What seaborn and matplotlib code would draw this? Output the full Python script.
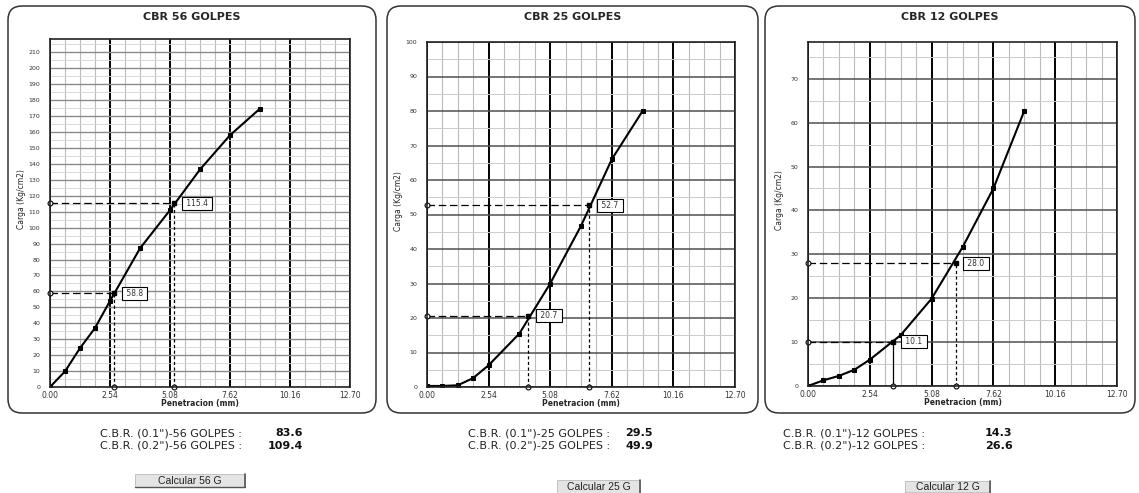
import matplotlib
matplotlib.use("Agg")
import matplotlib.pyplot as plt
import seaborn as sns
from matplotlib.patches import FancyBboxPatch, Rectangle
from matplotlib.transforms import IdentityTransform
from matplotlib.ticker import MultipleLocator

W, H = 1139, 493

# datos de los ensayos
penetracion = [0.0, 0.635, 1.27, 1.905, 2.54, 3.81, 5.08, 6.35, 7.62, 8.89]
carga_56 = [0.0, 9.8, 24.4, 37.0, 54.0, 87.0, 111.0, 136.5, 158.0, 174.7]
carga_25 = [0.3, 0.3, 0.5, 2.6, 6.3, 15.5, 30.0, 46.7, 66.0, 80.0]
carga_12 = [0.0, 1.3, 2.3, 3.7, 6.0, 11.6, 19.9, 31.6, 45.0, 62.7]

# penetracion corregida y carga leida (0.1" y 0.2")
corr_x_56 = [2.72, 5.27]
corr_y_56 = [58.8, 115.4]
corr_x_25 = [4.18, 6.70]
corr_y_25 = [20.7, 52.7]
corr_x_12 = [3.51, 6.07]
corr_y_12 = [10.1, 28.0]

cbr_56 = ["83.6", "109.4"]
cbr_25 = ["29.5", "49.9"]
cbr_12 = ["14.3", "26.6"]

golpes = ["56", "25", "12"]
x_ticks = [0.00, 2.54, 5.08, 7.62, 10.16, 12.70]
x_tick_labels = ["0.00", "2.54", "5.08", "7.62", "10.16", "12.70"]

sns.set_style("white")
plt.rcParams["font.family"] = ["DejaVu Sans"]

fig = plt.figure(figsize=(W / 100, H / 100), dpi=100)
fig.patch.set_facecolor("white")

boxes = [(8, 376, 6, 413), (387, 758, 6, 413), (765, 1135, 6, 413)]
ax_px = [(50, 350, 39, 387), (427, 735, 42, 387), (808, 1117, 42, 386)]
text_x = [100, 468, 783]
val_x = [303, 625, 985]
val_ha = ["right", "left", "left"]
buttons = [(135, 245, 474, 487), (557, 640, 480, 494), (905, 990, 481, 493)]

cargas = [carga_56, carga_25, carga_12]
corr_x = [corr_x_56, corr_x_25, corr_x_12]
corr_y = [corr_y_56, corr_y_25, corr_y_12]
cbrs = [cbr_56, cbr_25, cbr_12]
solid_first = [False, False, True]


def fx(x):
    return x / W


def fy(y):
    return 1 - y / H


for i in range(3):
    # marco redondeado
    b = boxes[i]
    fig.add_artist(FancyBboxPatch((b[0], H - b[3]), b[1] - b[0], b[3] - b[2],
                                  boxstyle="round,pad=0,rounding_size=14",
                                  transform=IdentityTransform(), fc="none",
                                  ec="#333333", lw=1.1))
    fig.text(fx((b[0] + b[1]) / 2), fy(17), "CBR " + golpes[i] + " GOLPES",
             ha="center", va="center", fontsize=8, fontweight="bold")

    l, r, t, btm = ax_px[i]
    ax = fig.add_axes([fx(l), fy(btm), (r - l) / W, (btm - t) / H])
    carga = cargas[i]
    ymax = max(carga) * 1.25

    sns.lineplot(x=penetracion, y=carga, ax=ax, color="black", lw=1.5,
                 marker="s", markersize=2.6, markeredgecolor="black")

    ax.set_xlim(0, 12.70)
    ax.set_ylim(0, ymax)
    ax.set_xticks(x_ticks)
    ax.set_xticklabels(x_tick_labels)
    ax.xaxis.set_minor_locator(MultipleLocator(0.635))
    ax.yaxis.set_major_locator(MultipleLocator(10))
    ax.yaxis.set_minor_locator(MultipleLocator(5))
    ax.grid(which="major", axis="x", color="black", lw=1.4)
    ax.grid(which="minor", axis="x", color="#bbbbbb", lw=0.8)
    if i == 0:
        ax.grid(which="major", axis="y", color="#8c8c8c", lw=1.0)
        ax.grid(which="minor", axis="y", color="#d2d2d2", lw=0.6)
    else:
        ax.grid(which="major", axis="y", color="#505050", lw=1.1)
        ax.grid(which="minor", axis="y", color="#cccccc", lw=0.7)
    ax.set_axisbelow(True)
    for s in ax.spines.values():
        s.set_color("#222222")
        s.set_linewidth(1.2)
    ax.tick_params(axis="x", labelsize=5.5, length=3, direction="in", pad=3, colors="#333333")
    ax.tick_params(axis="y", labelsize=4.5, length=2, pad=5, colors="#333333")
    ax.tick_params(which="minor", length=2)
    ax.set_xlabel("Penetracion (mm)", fontsize=5.5, fontweight="bold")
    ax.xaxis.set_label_coords(0.5, -12 / (btm - t))
    ax.set_ylabel("Carga (Kg/cm2)", fontsize=5.5)
    ax.yaxis.set_label_coords(-24 / (r - l), 0.54)

    # lineas de lectura
    for k in range(2):
        cx, cy = corr_x[i][k], corr_y[i][k]
        ax.plot([0, cx], [cy, cy], color="black", lw=0.9, ls=(0, (6, 3)))
        vls = "-" if (solid_first[i] and k == 0) else (0, (2.5, 2))
        ax.plot([cx, cx], [0, cy], color="black", lw=0.9, ls=vls)
        ax.plot([0, cx], [cy, 0], ls="none", marker="o", ms=3.5, mfc="white",
                mec="black", mew=0.8, clip_on=False)
        ax.plot([cx], [cy], ls="none", marker="s", ms=3, color="black")
        ax.annotate(" %.1f " % cy, xy=(cx, cy), xytext=(7, 0),
                    textcoords="offset points", ha="left", va="center",
                    fontsize=5.5, color="#333333",
                    bbox=dict(boxstyle="square,pad=0.25", fc="white", ec="black", lw=0.8))

    # resultados
    fig.text(fx(text_x[i]), fy(433), 'C.B.R. (0.1")-' + golpes[i] + " GOLPES :",
             fontsize=8, va="center", color="#222222")
    fig.text(fx(text_x[i]), fy(446), 'C.B.R. (0.2")-' + golpes[i] + " GOLPES :",
             fontsize=8, va="center", color="#222222")
    fig.text(fx(val_x[i]), fy(433), cbrs[i][0], fontsize=8, fontweight="bold",
             va="center", ha=val_ha[i], color="#111111")
    fig.text(fx(val_x[i]), fy(446), cbrs[i][1], fontsize=8, fontweight="bold",
             va="center", ha=val_ha[i], color="#111111")

    # boton
    bl, br, bt, bb = buttons[i]
    fig.add_artist(Rectangle((bl, H - bb), br - bl, bb - bt, transform=IdentityTransform(),
                             fc="#e4e4e4", ec="#bbbbbb", lw=0.6))
    fig.add_artist(plt.Line2D([br, br], [H - bb, H - bt], transform=IdentityTransform(),
                              color="#555555", lw=1.2))
    fig.add_artist(plt.Line2D([bl, br], [H - bb, H - bb], transform=IdentityTransform(),
                              color="#555555", lw=1.0))
    fig.text(fx((bl + br) / 2), fy((bt + bb) / 2), "Calcular " + golpes[i] + " G",
             ha="center", va="center", fontsize=7.5, family="Liberation Sans", color="#222222")

fig.savefig("out.png", dpi=100, facecolor="white")
